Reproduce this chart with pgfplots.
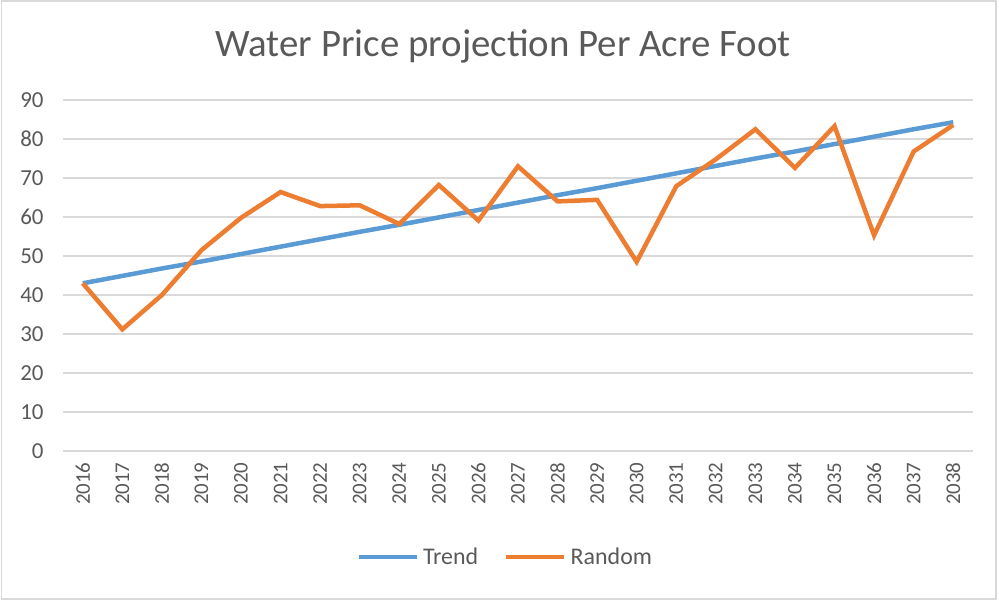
\documentclass[border=0pt]{standalone}
\usepackage{pgfplots}
\pgfplotsset{compat=1.18}
\usepackage{fontspec}
\setmainfont{Carlito}
\definecolor{tblue}{HTML}{5B9BD5}
\definecolor{torange}{HTML}{ED7D31}
\definecolor{txtgray}{HTML}{595959}
\definecolor{gridgray}{HTML}{D9D9D9}
\begin{document}
\begin{tikzpicture}
\useasboundingbox (0,0) rectangle (999bp,602bp);
\draw[gridgray, line width=1.5bp] (1.5bp,3bp) rectangle (996bp,601bp);
\node[text=txtgray, font=\fontsize{39}{44}\selectfont] at (503bp,556bp) {Water Price projection Per Acre Foot};
\begin{axis}[
  at={(63bp,151bp)}, anchor=origin,
  scale only axis, width=910bp, height=351bp,
  xmin=2015.5, xmax=2038.5, ymin=0, ymax=90,
  xtick={2016,...,2038}, ytick={0,10,...,90},
  xticklabel style={rotate=90, anchor=east, text=txtgray, font=\fontsize{21}{24}\selectfont},
  yticklabel style={text=txtgray, font=\fontsize{23}{26}\selectfont},
  /pgf/number format/1000 sep={},
  /pgf/number format/assume math mode=true,
  axis line style={draw=none},
  tick style={draw=none},
  ymajorgrids, major grid style={gridgray, line width=1.2bp},
  xtick pos=bottom,
  xticklabel shift=8bp, yticklabel shift=16bp,
  legend columns=2,
  legend style={at={(0.486,-0.302)}, anchor=center, draw=none, fill=none,
    font=\fontsize{24}{28}\selectfont, text=txtgray, inner xsep=0bp,
    /tikz/every odd column/.append style={column sep=2bp},
    /tikz/every even column/.append style={column sep=24bp}},
  legend image code/.code={\draw[#1] (0bp,0bp) -- (58bp,0bp);},
]
\addplot[tblue, line width=4.5bp] coordinates {
(2016,43.0) (2017,44.9) (2018,46.8) (2019,48.6) (2020,50.5) (2021,52.4)
(2022,54.3) (2023,56.2) (2024,58.0) (2025,59.9) (2026,61.8) (2027,63.7)
(2028,65.6) (2029,67.4) (2030,69.3) (2031,71.2) (2032,73.1) (2033,75.0)
(2034,76.8) (2035,78.7) (2036,80.6) (2037,82.5) (2038,84.3)};
\addlegendentry{Trend}
\addplot[torange, line width=4.5bp] coordinates {
(2016,43.0) (2017,31.2) (2018,40.0) (2019,51.5) (2020,59.8) (2021,66.4)
(2022,62.8) (2023,63.0) (2024,58.2) (2025,68.2) (2026,59.1) (2027,73.0)
(2028,64.0) (2029,64.4) (2030,48.5) (2031,67.9) (2032,74.8) (2033,82.5)
(2034,72.6) (2035,83.3) (2036,55.3) (2037,76.8) (2038,83.6)};
\addlegendentry{Random}
\end{axis}
\end{tikzpicture}
\end{document}
